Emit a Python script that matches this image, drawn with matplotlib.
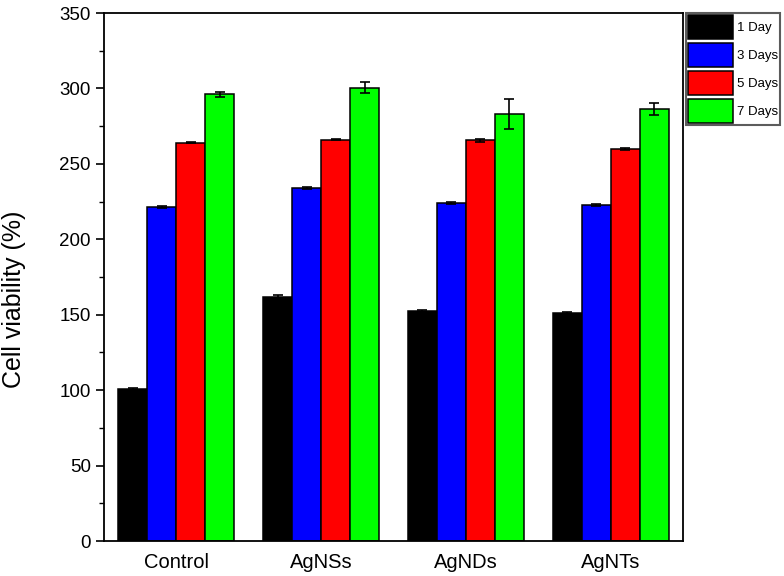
import matplotlib
matplotlib.use("Agg")
import matplotlib.pyplot as plt
import numpy as np
from matplotlib.ticker import MultipleLocator

plt.rcParams['font.family'] = ['Liberation Sans', 'DejaVu Sans']

categories = ["Control", "AgNSs", "AgNDs", "AgNTs"]
series_names = ["1 Day", "3 Days", "5 Days", "7 Days"]
colors = ["#000000", "#0000ff", "#ff0000", "#00ff00"]

day1 = [100.5, 162.0, 152.5, 151.0]
day3 = [221.5, 234.0, 224.0, 222.7]
day5 = [264.0, 266.0, 265.5, 260.0]
day7 = [296.0, 300.5, 283.0, 286.5]
values = [day1, day3, day5, day7]

err1 = [1.0, 0.8, 0.5, 0.5]
err3 = [0.5, 0.5, 0.5, 0.5]
err5 = [0.5, 0.5, 1.2, 0.8]
err7 = [1.5, 3.5, 10.0, 3.8]
errors = [err1, err3, err5, err7]

fig = plt.figure(figsize=(7.84, 5.76), dpi=100)
ax = fig.add_axes([104/784, 35/576, 579/784, 528/576])

x = np.arange(1, len(categories) + 1)
width = 0.2
handles = []
for i, (vals, errs, col, name) in enumerate(zip(values, errors, colors, series_names)):
    pos = x + (i - 1.5) * width
    b = ax.bar(pos, vals, width, color=col, edgecolor='black', linewidth=1.1,
               yerr=errs, capsize=3.5, error_kw=dict(elinewidth=1.2, capthick=1.2, ecolor='black'),
               label=name)
    handles.append(b)

ax.set_xlim(0.5, 4.5)
ax.set_ylim(0, 350)
ax.set_xticks(x)
ax.set_xticklabels(categories, fontsize=14.5)
ax.tick_params(axis='x', length=0, pad=9)
ax.yaxis.set_major_locator(MultipleLocator(50))
ax.yaxis.set_minor_locator(MultipleLocator(25))
ax.tick_params(axis='y', which='major', length=6, width=1.2, labelsize=13.5, direction='out')
ax.tick_params(axis='y', which='minor', length=3.5, width=1.0, direction='out')
for s in ax.spines.values():
    s.set_linewidth(1.3)
fig.text(14/784, 1 - 299/576, "Cell viability (%)", fontsize=18, rotation=90,
         ha='center', va='center')

leg = fig.legend(handles=handles, labels=series_names, loc='upper left',
                 bbox_to_anchor=(686/784, 1 - 13/576), bbox_transform=fig.transFigure,
                 fontsize=9.5, handlelength=3.4, handleheight=2.45, labelspacing=0.28,
                 borderpad=0.15, handletextpad=0.3, borderaxespad=0,
                 fancybox=False, frameon=True, edgecolor='#333333')
leg.get_frame().set_linewidth(1.5)

fig.savefig("out.png", dpi=100)
